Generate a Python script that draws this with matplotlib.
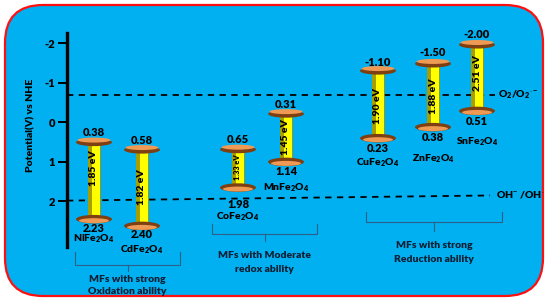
import matplotlib
matplotlib.use("Agg")
import matplotlib.pyplot as plt
from matplotlib.patches import FancyBboxPatch, Ellipse, Rectangle

WT = 'heavy'
plt.rcParams['font.family'] = ['Lato', 'DejaVu Sans']
plt.rcParams['font.weight'] = WT
plt.rcParams['mathtext.fontset'] = 'custom'
plt.rcParams['mathtext.rm'] = 'Lato:heavy'
plt.rcParams['mathtext.it'] = 'Lato:heavy'
plt.rcParams['mathtext.bf'] = 'Lato:heavy'

# ---------------- data ----------------
names = [r'NiFe$_2$O$_4$', r'CdFe$_2$O$_4$', r'CoFe$_2$O$_4$', r'MnFe$_2$O$_4$',
         r'CuFe$_2$O$_4$', r'ZnFe$_2$O$_4$', r'SnFe$_2$O$_4$']
cb_labels = [0.38, 0.58, 0.65, 0.31, -1.10, -1.50, -2.00]
vb_labels = [2.23, 2.40, 1.98, 1.14, 0.23, 0.38, 0.51]
band_gaps = [1.85, 1.82, 1.33, 1.45, 1.90, 1.88, 2.51]
# band edge positions as drawn on the potential scale (schematic)
cb_drawn = [0.47, 0.66, 0.65, -0.25, -1.34, -1.52, -2.00]
vb_drawn = [2.46, 2.63, 1.66, 1.01, 0.41, 0.13, -0.28]
o2_level = -0.68
oh_level = [1.99, 1.86]
yticks = [-2, -1, 0, 1, 2]
ytick_labels = ['-2', '-1', '0', '1', '2']
groups = [['MFs with strong', 'Oxidation ability'],
          ['MFs with Moderate', 'redox ability'],
          ['MFs with strong', 'Reduction ability']]

# ---------------- layout ----------------
x_pos = [94, 142, 238, 286, 378, 433, 477]
top_off = [8, 8, 8, 8, 7, 9, 8]
bot_off = [-9, -9, -17, -10, -10, -10, -11]
name_off = [-20, -24, -29, -26, -25, -32, -31]
gap_nudge = [12, 0, 0, 0, -2, -2, 4]
gap_size = [7.5, 7.5, 5.3, 7.5, 7.5, 7.5, 7.5]
brackets = [(75, 180, 252, 265, 271), (212, 317, 224, 234, 241), (366, 502, 212, 222, 231)]
group_text_y = [(279, 291), (256, 269), (246, 259)]

W, H = 550, 304
fig = plt.figure(figsize=(W / 100, H / 100), dpi=100)

bg = fig.add_axes([0, 0, 1, 1])
bg.set_xlim(0, W)
bg.set_ylim(H, 0)
bg.axis('off')
bg.add_patch(FancyBboxPatch((5, 5), 538, 291, boxstyle='round,pad=0,rounding_size=38',
                            facecolor='#00B0F0', edgecolor='#FF1010', linewidth=1.6))

ax = fig.add_axes([0, 0, 1, 1])
ax.patch.set_visible(False)
ppu = 39.5  # pixels per volt
ax.set_xlim(0, W)
ax.set_ylim((H - 122) / ppu, -122 / ppu)
for s in ['top', 'right', 'bottom']:
    ax.spines[s].set_visible(False)
ax.spines['left'].set_position(('data', 67))
ax.spines['left'].set_bounds(-2.26, 3.16)
ax.spines['left'].set_linewidth(2.4)
ax.set_xticks([])
ax.set_yticks(yticks)
ax.set_yticklabels(ytick_labels, fontsize=8, fontweight=WT)
ax.tick_params(axis='y', length=6.5, width=1.4, pad=2)
ax.set_ylabel('Potential(V) vs NHE', fontsize=7.5, fontweight=WT)
ax.yaxis.set_label_coords(35 / W, 1 - 125 / H)

# reference lines
ax.plot([67, 495], [o2_level, o2_level], color='black', lw=1.3, dashes=(3.5, 3), zorder=1)
ax.plot([67, 490], oh_level, color='black', lw=1.3, dashes=(3.5, 3), zorder=1)
ax.text(498, o2_level, r'O$_2$/O$_2$$^{\cdot -}$', fontsize=7.5, fontweight=WT,
        va='center', ha='left')
ax.text(496, oh_level[1] - 0.02, r'OH$^{-}$ /OH$^{\cdot}$', fontsize=7.5, fontweight=WT,
        va='center', ha='left')

dw = 36
for i in range(len(names)):
    x = x_pos[i]
    t, b = cb_drawn[i], vb_drawn[i]
    # bar
    ax.add_patch(Rectangle((x - 6, t), 12, b - t, facecolor='#FFFF00',
                           edgecolor='#8A8200', lw=0.5, zorder=2))
    ax.add_patch(Rectangle((x - 6, t), 3.5, b - t, facecolor='#A89E00',
                           edgecolor='none', zorder=2))
    # top disc
    ax.add_patch(Ellipse((x, t + 1.8 / ppu), dw, 7.5 / ppu, facecolor='#7E3F12',
                         edgecolor='none', zorder=3))
    ax.add_patch(Ellipse((x, t - 0.5 / ppu), dw - 3, 5 / ppu, facecolor='#EE9A55',
                         edgecolor='none', zorder=3))
    # bottom disc
    ax.add_patch(Ellipse((x, b), dw, 8.5 / ppu, facecolor='#7E3F12',
                         edgecolor='none', zorder=3))
    ax.add_patch(Ellipse((x, b + 1.5 / ppu), dw - 6, 5 / ppu, facecolor='#EE9A55',
                         edgecolor='none', zorder=3))
    # labels
    ax.annotate(f'{cb_labels[i]:.2f}', (x, t), xytext=(0, top_off[i]),
                textcoords='offset pixels', ha='center', va='center',
                fontsize=8, fontweight=WT, zorder=4)
    ax.annotate(f'{vb_labels[i]:.2f}', (x, b), xytext=(0, bot_off[i]),
                textcoords='offset pixels', ha='center', va='center',
                fontsize=8, fontweight=WT, zorder=4)
    ax.annotate(names[i], (x, b), xytext=(0, name_off[i]),
                textcoords='offset pixels', ha='center', va='center',
                fontsize=7.5, fontweight=WT, zorder=4)
    ax.annotate(f'{band_gaps[i]:.2f} eV', (x, (t + b) / 2), xytext=(0, gap_nudge[i]),
                textcoords='offset pixels', ha='center', va='center', rotation=90,
                fontsize=gap_size[i], fontweight=WT, zorder=4)

# group brackets
bc = '#2B5F86'
for (x0, x1, ytop, yh, ystem), (ya, yb), lab in zip(brackets, group_text_y, groups):
    xc = (x0 + x1) / 2
    bg.plot([x0, x0, x1, x1], [ytop, yh, yh, ytop], color=bc, lw=0.8)
    bg.plot([xc, xc], [yh, ystem], color=bc, lw=0.8)
    bg.text(xc, ya, lab[0], ha='center', va='center', fontsize=7.5,
            fontweight=WT, color='#0E1E33')
    bg.text(xc, yb, lab[1], ha='center', va='center', fontsize=7.5,
            fontweight=WT, color='#0E1E33')

fig.savefig('out.png', dpi=100)
